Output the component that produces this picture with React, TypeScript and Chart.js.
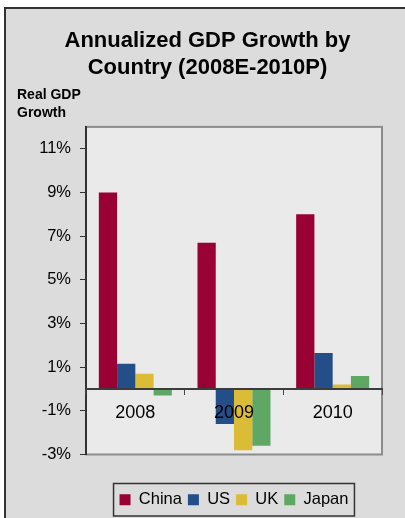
import { useEffect, useRef } from 'react';
import { Chart, registerables } from 'chart.js';

Chart.register(...registerables);

const categories = ['2008', '2009', '2010'];
const seriesNames = ['China', 'US', 'UK', 'Japan'];
const china = [9.0, 6.7, 8.0];
const us = [1.15, -1.6, 1.65];
const uk = [0.7, -2.8, 0.2];
const japan = [-0.3, -2.6, 0.6];
const yTicks = [-3, -1, 1, 3, 5, 7, 9, 11];
const yMin = -3;
const yMax = 12;
const titleLines = ['Annualized GDP Growth by', 'Country (2008E-2010P)'];
const axisLabelLines = ['Real GDP', 'Growth'];

const colors = ['#990033', '#244e87', '#dabc37', '#5ea765'];
const FONT = '"Liberation Sans", Arial, sans-serif';

const framePlugin = {
  id: 'framePlugin',
  beforeDraw(chart: any) {
    const { ctx, chartArea: a } = chart;
    ctx.save();
    ctx.fillStyle = '#eaeaea';
    ctx.fillRect(a.left, a.top, a.right - a.left, a.bottom - a.top);
    ctx.strokeStyle = '#8c8c8c';
    ctx.lineWidth = 2;
    ctx.strokeRect(a.left, a.top, a.right - a.left, a.bottom - a.top);
    ctx.restore();
  },
  afterDraw(chart: any) {
    const lg = chart.legend;
    if (!lg || !lg.legendHitBoxes || !lg.legendHitBoxes.length) return;
    const hb = lg.legendHitBoxes;
    let l = Infinity, r = -Infinity, t = Infinity, b = -Infinity;
    hb.forEach((h: any) => {
      l = Math.min(l, h.left);
      r = Math.max(r, h.left + h.width);
      t = Math.min(t, h.top);
      b = Math.max(b, h.top + h.height);
    });
    const { ctx } = chart;
    ctx.save();
    ctx.strokeStyle = '#333333';
    ctx.lineWidth = 1.5;
    ctx.strokeRect(l - 6, t - 8, r - l + 12, b - t + 16);
    ctx.restore();
  },
};

export default function App() {
  const ref = useRef<HTMLCanvasElement | null>(null);

  useEffect(() => {
    if (!ref.current) return;
    const data = [china, us, uk, japan];
    const chart = new Chart(ref.current, {
      type: 'bar',
      data: {
        labels: categories,
        datasets: seriesNames.map((name, i) => ({
          label: name,
          data: data[i],
          backgroundColor: colors[i],
          borderWidth: 0,
          barPercentage: 1,
          categoryPercentage: 0.74,
        })),
      },
      options: {
        animation: false,
        responsive: true,
        maintainAspectRatio: false,
        events: [],
        layout: { padding: { left: 17, right: 7, top: 27.5, bottom: 0 } },
        plugins: {
          title: {
            display: true,
            text: titleLines,
            color: '#000',
            font: { family: FONT, size: 22, weight: 'bold', lineHeight: 27 / 22 },
            padding: { top: 0, bottom: 0 },
          },
          subtitle: {
            display: true,
            text: axisLabelLines,
            align: 'start',
            color: '#000',
            font: { family: FONT, size: 14, weight: 'bold', lineHeight: 18 / 14 },
            padding: { top: 4.6, bottom: 4.8 },
          },
          legend: {
            position: 'bottom',
            fullSize: false,
            labels: {
              boxWidth: 11,
              boxHeight: 11,
              padding: 6,
              color: '#000',
              font: { family: FONT, size: 16.5 },
            },
          },
          tooltip: { enabled: false },
        },
        scales: {
          x: {
            type: 'category',
            position: { y: 0 } as any,
            offset: true,
            grid: {
              display: true,
              drawOnChartArea: false,
              drawTicks: true,
              tickLength: 5,
              color: '#444',
              offset: true,
              z: 1,
            },
            border: { display: true, color: '#3c3c3c', width: 2, z: 1 },
            ticks: { color: '#000', font: { family: FONT, size: 18 }, padding: 8.5, maxRotation: 0, z: 2 },
          },
          x2: {
            type: 'linear',
            position: 'bottom',
            display: true,
            grid: { display: false },
            border: { display: false },
            ticks: { display: false },
            afterFit(s: any) { s.height = 31; },
          },
          y: {
            type: 'linear',
            position: 'left',
            min: yMin,
            max: yMax,
            afterBuildTicks(s: any) { s.ticks = yTicks.map((v) => ({ value: v })); },
            afterFit(s: any) { s.width = 69; },
            grid: {
              display: true,
              drawOnChartArea: false,
              drawTicks: true,
              tickLength: 6,
              color: '#333',
            },
            border: { display: true, color: '#333', width: 2 },
            ticks: {
              color: '#000',
              font: { family: FONT, size: 16.5 },
              padding: 9,
              callback: (v: any) => `${v}%`,
            },
          },
          y2: {
            type: 'linear',
            position: 'right',
            display: true,
            grid: { display: false },
            border: { display: false },
            ticks: { display: false },
            afterFit(s: any) { s.width = 16; },
          },
        },
      },
      plugins: [framePlugin],
    } as any);
    return () => chart.destroy();
  }, []);

  return (
    <div style={{ position: 'fixed', left: 0, top: 0, width: 405, height: 518, background: '#fff', overflow: 'hidden' }}>
      <div
        style={{
          position: 'absolute',
          left: 4,
          top: 7,
          width: 600,
          height: 700,
          background: '#dcdcdc',
          borderLeft: '2px solid #333',
          borderTop: '2px solid #333',
        }}
      />
      <div style={{ position: 'absolute', left: 0, top: 0, width: 405, height: 518 }}>
        <canvas ref={ref} />
      </div>
    </div>
  );
}
